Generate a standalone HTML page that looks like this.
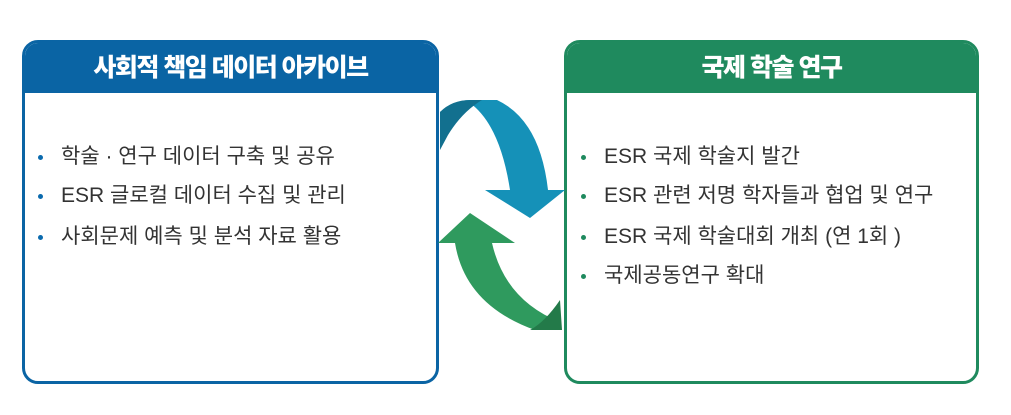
<!DOCTYPE html>
<html><head><meta charset="utf-8"><style>
body{margin:0;width:1011px;height:415px;background:#fff;position:relative;overflow:hidden;font-family:"Liberation Sans","Noto Sans CJK KR",sans-serif}
.box{position:absolute;top:40px;height:344px;border:3px solid;border-radius:16px;overflow:hidden;background:#fff;box-sizing:border-box}
.hd{height:50px;color:#fff;font-weight:900;font-size:25px;text-align:center;line-height:50px;letter-spacing:-1.5px}
.it{position:absolute;font-size:21px;color:#333;letter-spacing:0;line-height:24px}
.it:before{content:"";position:absolute;left:-23px;top:10px;width:5px;height:5px;border-radius:50%}
.b:before{background:#0a6aae}.g:before{background:#1f8a5e}
</style></head><body>
<div class="box" style="left:22px;width:417px;border-color:#0a64a4"><div class="hd" style="background:#0a64a4">사회적 책임 데이터 아카이브</div></div>
<div class="box" style="left:564px;width:415px;border-color:#1f8a5e"><div class="hd" style="background:#1f8a5e">국제 학술 연구</div></div>
<div class="it b" style="left:61px;top:145px">학술 · 연구 데이터 구축 및 공유</div>
<div class="it b" style="left:61px;top:184px">ESR 글로컬 데이터 수집 및 관리</div>
<div class="it b" style="left:61px;top:225px">사회문제 예측 및 분석 자료 활용</div>
<div class="it g" style="left:604px;top:145px">ESR 국제 학술지 발간</div>
<div class="it g" style="left:604px;top:184px">ESR 관련 저명 학자들과 협업 및 연구</div>
<div class="it g" style="left:604px;top:225px">ESR 국제 학술대회 개최 (연 1회 )</div>
<div class="it g" style="left:604px;top:264px">국제공동연구 확대</div>
<svg style="position:absolute;left:0;top:0" width="1011" height="415">
<path d="M440 112 Q455 100 470 100 L497 100 Q540 120 548 190 L565 190 L530 218 L485 190 L510 190 Q500 125 470 103 Q455 115 440 140Z" fill="#1591b8"/>
<path d="M440 112 Q452 100 470 100 L482 100 Q462 112 448 135 L440 150Z" fill="#12708f"/>
<path d="M438 243 L470 213 L515 243 L492 243 Q505 300 560 322 L560 330 L535 330 Q465 305 455 243Z" fill="#2f9a5e"/>
<path d="M560 300 L562 330 L530 330 Q545 322 560 300Z" fill="#237a49"/>
</svg>
</body></html>
